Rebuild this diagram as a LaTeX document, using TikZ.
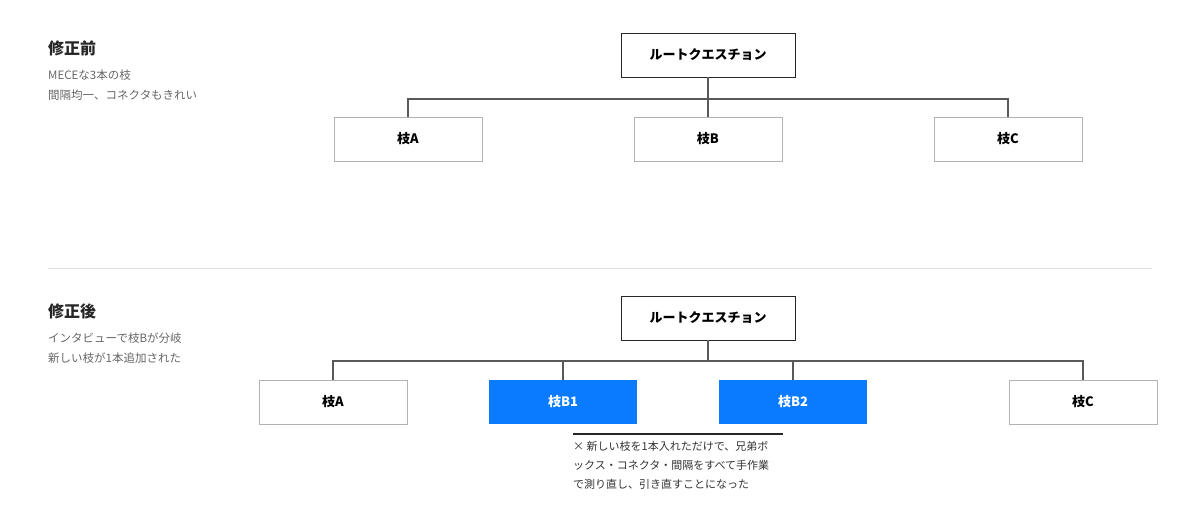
\documentclass[tikz,border=0pt]{standalone}
\usepackage{fontspec}
\setmainfont{Noto Sans CJK JP}
\begin{document}
\begin{tikzpicture}[x=1pt,y=-1pt,
 box/.style={draw=black!30,line width=0.8pt,fill=white,minimum width=148pt,minimum height=44pt,inner sep=0pt,font=\fontsize{13}{15}\selectfont\bfseries},
 root/.style={box,draw=black!85,minimum width=174pt},
 blue/.style={box,draw=none,fill=blue1,text=white},
 con/.style={draw=black!65,line width=1.2pt},
 ttl/.style={anchor=west,inner sep=0pt,font=\fontsize{16}{18}\selectfont\bfseries,text=black!85},
 sub/.style={anchor=west,inner sep=0pt,font=\fontsize{11.5}{13}\selectfont,text=black!60}]
\definecolor{blue1}{HTML}{0A7BFF}
\useasboundingbox (0,0) rectangle (1200,520);
\node[ttl] (t1) at (48,48) {修正前};
\node[sub] (s1a) at (48,75) {MECEな3本の枝};
\node[sub] (s1b) at (48,95) {間隔均一、コネクタもきれい};
\node[root] (r1) at (708,55) {ルートクエスチョン};
\node[box] (a1) at (408,139) {枝A};
\node[box] (b1) at (708,139) {枝B};
\node[box] (c1) at (1008,139) {枝C};
\coordinate (j1) at (708,99);
\draw[con] (r1.south) -- (j1);
\foreach \n in {a1,b1,c1} \draw[con] (\n.north) |- (j1);
\draw[black!12,line width=0.8pt] (48,268) -- (1152,268);
\node[ttl] (t2) at (48,311) {修正後};
\node[sub] (s2a) at (48,338) {インタビューで枝Bが分岐};
\node[sub] (s2b) at (48,358) {新しい枝が1本追加された};
\node[root] (r2) at (708,318) {ルートクエスチョン};
\node[box] (a2) at (333,402) {枝A};
\node[blue] (b21) at (563,402) {枝B1};
\node[blue] (b22) at (793,402) {枝B2};
\node[box] (c2) at (1083,402) {枝C};
\coordinate (j2) at (708,361);
\draw[con] (r2.south) -- (j2);
\foreach \n in {a2,b21,b22,c2} \draw[con] (\n.north) |- (j2);
\coordinate (n0) at (573,434);
\coordinate (n1) at (783,434);
\draw[black!85,line width=2pt] (n0) -- (n1);
\node[anchor=north west,inner sep=0pt,align=left,text=black!80,font=\fontsize{11}{19}\selectfont] (note) at (573,441) {× 新しい枝を1本入れただけで、兄弟ボ\\ックス・コネクタ・間隔をすべて手作業\\で測り直し、引き直すことになった};
\end{tikzpicture}
\end{document}
